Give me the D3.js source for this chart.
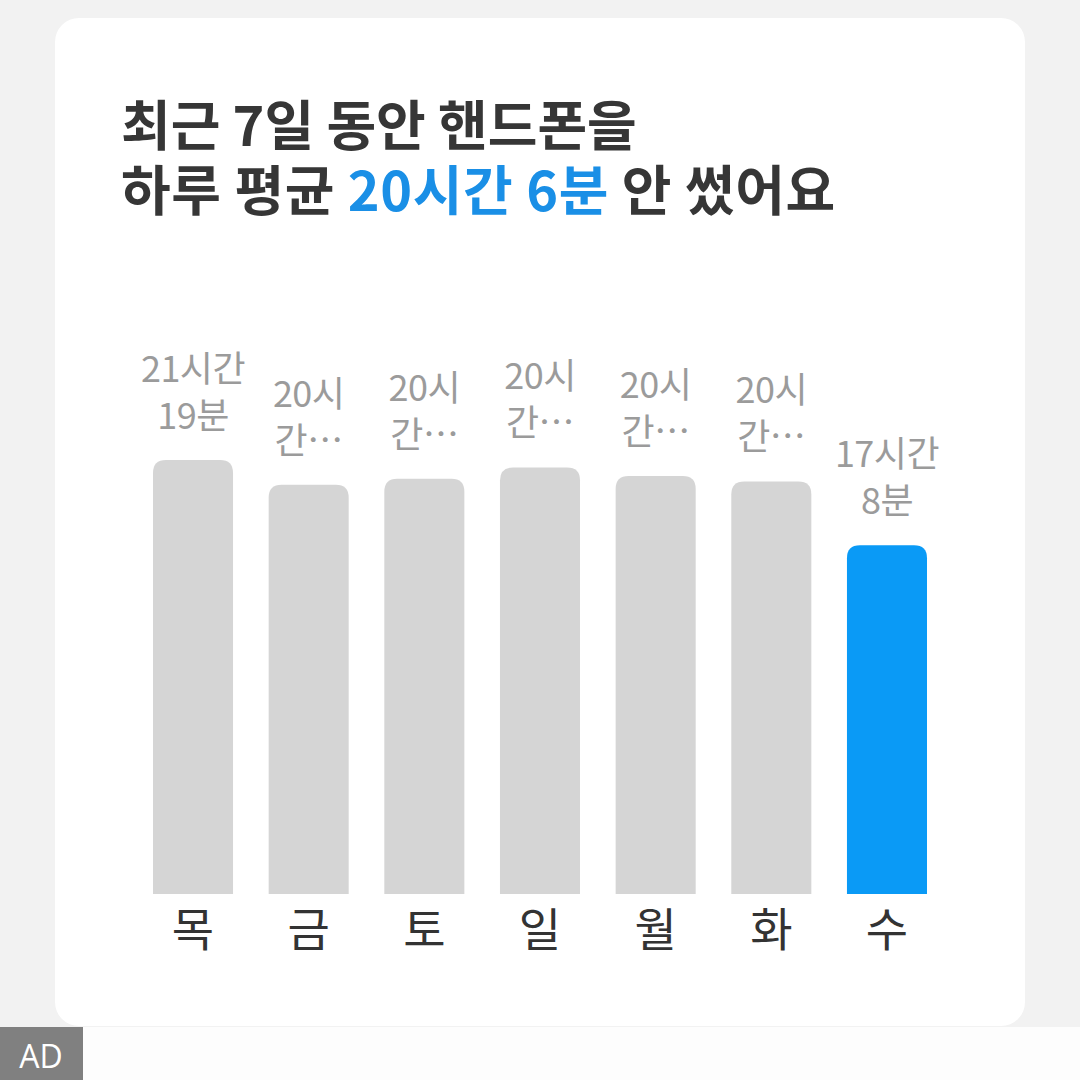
<!DOCTYPE html>
<html><head><meta charset="utf-8">
<script src="https://cdn.jsdelivr.net/npm/d3@7"></script>
<style>
html,body{margin:0;padding:0;background:#f2f2f2;}
svg{display:block;font-family:"Noto Sans CJK KR","Noto Sans",sans-serif;}
</style></head>
<body>
<svg id="chart" width="1080" height="1080"></svg>
<script>
// Data
const days = ["목","금","토","일","월","화","수"];
const minutesUsed = [1279, 1206, 1224, 1257, 1232, 1216, 1028]; // minutes per day
const labelLine1 = ["21시간","20시","20시","20시","20시","20시","17시간"];
const labelLine2 = ["19분","간…","간…","간…","간…","간…","8분"];
const titleLine1 = "최근 7일 동안 핸드폰을";
const titleLine2Parts = [["하루 평균 ", false], ["20시간 6분", true], [" 안 썼어요", false]];

const svg = d3.select("#chart");
// background card
svg.append("rect").attr("x",0).attr("y",0).attr("width",1080).attr("height",1080).attr("fill","#f2f2f2");
svg.append("rect").attr("x",55).attr("y",18).attr("width",970).attr("height",1008).attr("rx",24).attr("fill","#ffffff");
svg.append("rect").attr("x",0).attr("y",1027).attr("width",1080).attr("height",53).attr("fill","#fdfdfd");
svg.append("rect").attr("x",0).attr("y",1027).attr("width",83).attr("height",53).attr("fill","#808080");
svg.append("text").attr("x",41).attr("y",1068).attr("text-anchor","middle").attr("fill","#ffffff")
  .style("font-family","'Open Sans',sans-serif").attr("font-size",32).text("AD");

// Title
svg.append("text").attr("x",121).attr("y",146).attr("font-size",54).attr("font-weight",700)
  .attr("fill","#363636").text(titleLine1);
const t2 = svg.append("text").attr("x",121).attr("y",211).attr("font-size",54).attr("font-weight",700)
  .attr("fill","#363636").attr("letter-spacing",0.6);
titleLine2Parts.forEach(([s,hl]) => t2.append("tspan").attr("fill", hl ? "#1a8fe6" : "#363636").text(s));

// Scales
const baseline = 894;
const x = d3.scaleBand().domain(days).range([153, 927]).paddingInner(0.308).paddingOuter(0);
const y = d3.scaleLinear().domain([0, d3.max(minutesUsed)]).range([baseline, 460]);

const r = 13;
function topRounded(x0, y0, w, h){
  const rr = Math.min(r, h, w/2);
  return `M${x0},${y0+h}V${y0+rr}Q${x0},${y0} ${x0+rr},${y0}H${x0+w-rr}Q${x0+w},${y0} ${x0+w},${y0+rr}V${y0+h}Z`;
}

const g = svg.append("g");
days.forEach((d,i) => {
  const v = minutesUsed[i];
  const bx = x(d), bw = x.bandwidth(), by = y(v);
  const last = i === days.length-1;
  g.append("path").attr("d", topRounded(bx, by, bw, baseline-by)).attr("fill", last ? "#0a9af6" : "#d5d5d5");
  const cx = bx + bw/2;
  g.append("text").attr("x",cx).attr("y",by-78).attr("text-anchor","middle").attr("font-size",36)
    .attr("fill","#9b9b9b").attr("letter-spacing",-0.5).text(labelLine1[i]);
  g.append("text").attr("x",cx).attr("y",by-31).attr("text-anchor","middle").attr("font-size",36)
    .attr("fill","#9b9b9b").attr("letter-spacing",-0.5).text(labelLine2[i]);
  g.append("text").attr("x",cx).attr("y",946).attr("text-anchor","middle").attr("font-size",46)
    .attr("fill","#333333").text(d);
});
</script>
</body></html>
